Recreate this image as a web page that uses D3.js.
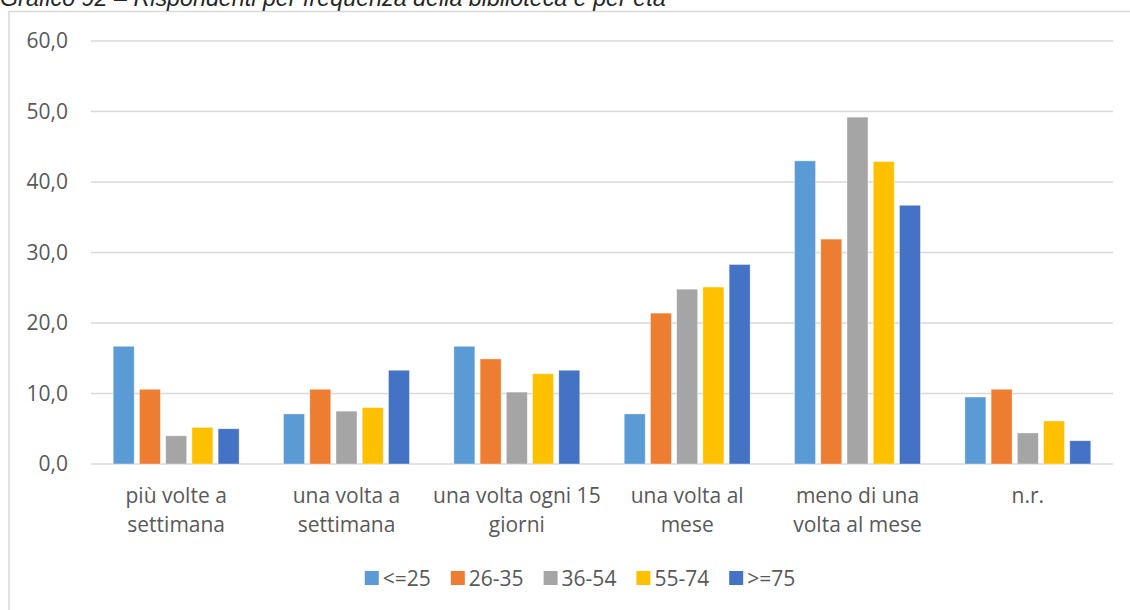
<!DOCTYPE html>
<html>
<head>
<meta charset="utf-8">
<script src="https://cdn.jsdelivr.net/npm/d3@7"></script>
<style>
  html, body { margin: 0; padding: 0; background: #fff; }
  svg { display: block; }
</style>
</head>
<body>
<svg id="chart" width="1130" height="610"></svg>
<script>
const titleText = "Grafico 92 – Rispondenti per frequenza della biblioteca e per età";
const categories = ["più volte a settimana", "una volta a settimana", "una volta ogni 15 giorni", "una volta al mese", "meno di una volta al mese", "n.r."];
const seriesNames = ["<=25", "26-35", "36-54", "55-74", ">=75"];
const s_le25  = [16.7, 7.1, 16.7, 7.1, 43.0, 9.5];
const s_26_35 = [10.6, 10.6, 14.9, 21.4, 31.9, 10.6];
const s_36_54 = [4.0, 7.5, 10.2, 24.8, 49.2, 4.4];
const s_55_74 = [5.2, 8.0, 12.8, 25.1, 42.9, 6.1];
const s_ge75  = [5.0, 13.3, 13.3, 28.3, 36.7, 3.3];
const yTicks = [0, 10, 20, 30, 40, 50, 60];
const colors = ["#5B9BD5", "#ED7D31", "#A5A5A5", "#FFC000", "#4472C4"];

const seriesValues = [s_le25, s_26_35, s_36_54, s_55_74, s_ge75];
const table = categories.map((c, i) => ({ cat: c, values: seriesValues.map((s, j) => ({ key: seriesNames[j], value: s[i], idx: j })) }));

const svg = d3.select("#chart");
const font = "'Open Sans', 'Noto Sans', sans-serif";
const fs = 21;
const textColor = "#595959";

// chart area border (extends past the right/bottom edges)
svg.append("rect").attr("x", 9).attr("y", 11.5).attr("width", 1160).attr("height", 640)
  .attr("fill", "#fff").attr("stroke", "#d9d9d9").attr("stroke-width", 1.5);

// title (clipped at top, as in the source document)
svg.append("text").attr("x", 0).attr("y", 6)
  .attr("font-family", "'Liberation Sans', Arial, sans-serif").attr("font-style", "italic")
  .attr("font-size", 23.3).attr("fill", "#262626").text(titleText);

const x0 = d3.scaleBand().domain(categories).range([91, 1113]).paddingInner(0.23).paddingOuter(0.115);
const x1 = d3.scaleBand().domain(seriesNames).range([0, x0.bandwidth()]).paddingInner(0.2).paddingOuter(0.1);
const y = d3.scaleLinear().domain([0, 60]).range([464, 41]);

const locale = d3.formatLocale({ decimal: ",", thousands: ".", grouping: [3], currency: ["€", ""] });
const fmt = locale.format(".1f");

// gridlines
svg.append("g").selectAll("line").data(yTicks).join("line")
  .attr("x1", 91).attr("x2", 1113)
  .attr("y1", d => y(d)).attr("y2", d => y(d))
  .attr("stroke", "#d9d9d9").attr("stroke-width", 1.5);

// y axis labels
const yAxis = d3.axisLeft(y).tickValues(yTicks).tickFormat(fmt).tickSize(0).tickPadding(0);
const yg = svg.append("g").attr("transform", "translate(68,0)").call(yAxis);
yg.select(".domain").remove();
yg.selectAll("text").attr("font-family", font).attr("font-size", fs).attr("fill", textColor);

// bars
const groups = svg.append("g").selectAll("g").data(table).join("g")
  .attr("transform", d => `translate(${x0(d.cat)},0)`);
groups.selectAll("rect").data(d => d.values).join("rect")
  .attr("x", d => x1(d.key)).attr("width", x1.bandwidth())
  .attr("y", d => y(d.value)).attr("height", d => y(0) - y(d.value))
  .attr("fill", d => colors[d.idx])
  .attr("stroke", "#fff").attr("stroke-opacity", 0.5).attr("stroke-width", 0.75);

// x axis labels with wrapping
const xAxis = d3.axisBottom(x0).tickSize(0).tickPadding(0);
const xg = svg.append("g").attr("transform", "translate(0,464)").call(xAxis);
xg.select(".domain").remove();
const measure = svg.append("text").attr("font-family", font).attr("font-size", fs).attr("visibility", "hidden");
function wrapLines(str, maxW) {
  const words = str.split(" ");
  const lines = [];
  let cur = "";
  words.forEach(w => {
    const t = cur ? cur + " " + w : w;
    measure.text(t);
    if (measure.node().getComputedTextLength() > maxW && cur) { lines.push(cur); cur = w; }
    else cur = t;
  });
  if (cur) lines.push(cur);
  return lines;
}
xg.selectAll(".tick text").each(function(d) {
  const t = d3.select(this);
  const lines = wrapLines(d, 168);
  t.text(null).attr("font-family", font).attr("font-size", fs).attr("fill", textColor)
    .attr("text-anchor", "middle").attr("y", 0).attr("dy", null);
  lines.forEach((ln, i) => {
    t.append("tspan").attr("x", 0).attr("y", 39 + i * 29).text(ln);
  });
});
measure.remove();

// legend
const legend = svg.append("g");
const items = legend.selectAll("g").data(seriesNames).join("g");
items.append("rect").attr("width", 14).attr("height", 14).attr("y", 571).attr("fill", (d, i) => colors[i]);
items.append("text").attr("x", 18).attr("y", 585.5).attr("font-family", font).attr("font-size", fs)
  .attr("fill", textColor).text(d => d);
let widths = [];
items.each(function() { widths.push(d3.select(this).select("text").node().getComputedTextLength() + 18); });
const gap = 20;
const total = d3.sum(widths) + gap * (widths.length - 1);
let cx = 580 - total / 2;
items.attr("transform", (d, i) => { const tx = cx; cx += widths[i] + gap; return `translate(${tx},0)`; });
</script>
</body>
</html>
